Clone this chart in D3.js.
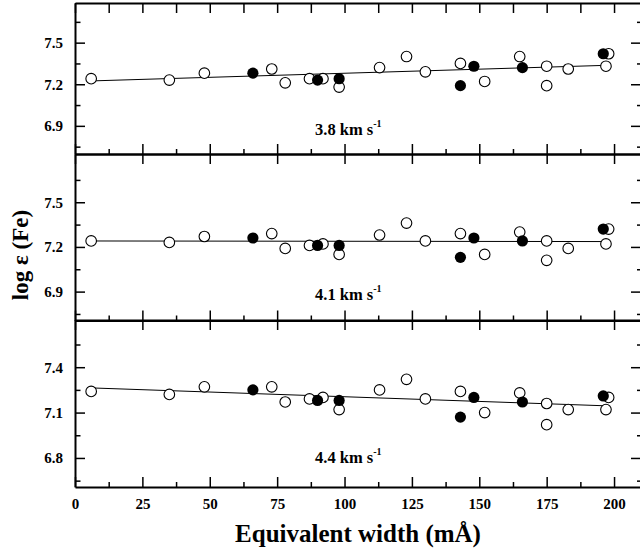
<!DOCTYPE html>
<html>
<head>
<meta charset="utf-8">
<script src="https://cdn.jsdelivr.net/npm/d3@7"></script>
<style>
  html, body { margin: 0; padding: 0; background: #fff; }
  svg { display: block; }
  .ax text { font-family: "Liberation Serif", "Times New Roman", serif; font-weight: bold; font-size: 15px; fill: #000; }
</style>
</head>
<body>
<svg id="chart" width="640" height="550"></svg>
<script>
// ---- data ----
const ew = [6, 35, 48, 66, 73, 78, 87, 90, 92, 98, 98, 113, 123, 130, 143, 143, 148, 152, 165, 166, 175, 175, 183, 196, 198, 197];
const filled = [0, 0, 0, 1, 0, 0, 0, 1, 0, 1, 0, 0, 0, 0, 0, 1, 1, 0, 0, 1, 0, 0, 0, 1, 0, 0];
const abund38 = [7.24, 7.23, 7.28, 7.28, 7.31, 7.21, 7.24, 7.23, 7.24, 7.24, 7.18, 7.32, 7.40, 7.29, 7.35, 7.19, 7.33, 7.22, 7.40, 7.32, 7.33, 7.19, 7.31, 7.42, 7.42, 7.33];
const abund41 = [7.24, 7.23, 7.27, 7.26, 7.29, 7.19, 7.21, 7.21, 7.22, 7.21, 7.15, 7.28, 7.36, 7.24, 7.29, 7.13, 7.26, 7.15, 7.30, 7.24, 7.24, 7.11, 7.19, 7.32, 7.32, 7.22];
const abund44 = [7.24, 7.22, 7.27, 7.25, 7.27, 7.17, 7.19, 7.18, 7.20, 7.18, 7.12, 7.25, 7.32, 7.19, 7.24, 7.07, 7.20, 7.10, 7.23, 7.17, 7.16, 7.02, 7.12, 7.21, 7.20, 7.12];
const fitX = [6, 198];
const fit38 = [7.224, 7.337];
const fit41 = [7.240, 7.236];
const fit44 = [7.263, 7.144];
const panelLabels = ["3.8 km s", "4.1 km s", "4.4 km s"];
const yMajor38 = [6.9, 7.2, 7.5], yMinor38 = [6.75, 7.05, 7.35, 7.65];
const yMajor41 = [6.9, 7.2, 7.5], yMinor41 = [6.75, 7.05, 7.35, 7.65];
const yMajor44 = [6.8, 7.1, 7.4], yMinor44 = [6.65, 6.95, 7.25, 7.55];
const xMajor = [0, 25, 50, 75, 100, 125, 150, 175, 200];
const xMinor = [12.5, 37.5, 62.5, 87.5, 112.5, 137.5, 162.5, 187.5];
const xTitle = "Equivalent width (mÅ)";
const yTitle = "log ε (Fe)";

// ---- layout ----
const svg = d3.select("#chart");
const x = d3.scaleLinear().domain([0, 210]).range([75, 641]);
const font = '"Liberation Serif", "Times New Roman", serif';

const panels = [
  { vals: abund38, fit: fit38, label: panelLabels[0], dom: [6.697, 7.786], rng: [154, 3], maj: yMajor38, min: yMinor38, labY: 135 },
  { vals: abund41, fit: fit41, label: panelLabels[1], dom: [6.706, 7.824], rng: [320.5, 154], maj: yMajor41, min: yMinor41, labY: 300 },
  { vals: abund44, fit: fit44, label: panelLabels[2], dom: [6.608, 7.712], rng: [487, 320], maj: yMajor44, min: yMinor44, labY: 463 }
];

function styleAxis(g, domainW) {
  g.attr("class", "ax");
  g.selectAll(".tick line").attr("stroke", "#000").attr("stroke-width", 1.5);
  g.select(".domain").attr("stroke", "#000").attr("stroke-width", domainW);
}

panels.forEach((p, i) => {
  const y = d3.scaleLinear().domain(p.dom).range(p.rng);
  const top = p.rng[1], bot = p.rng[0];
  const g = svg.append("g");

  // left axis
  g.append("g").attr("transform", `translate(${x(0)},0)`)
    .call(d3.axisLeft(y).tickValues(p.maj).tickFormat(d3.format(".1f")).tickSizeInner(-10).tickSizeOuter(0).tickPadding(12))
    .call(s => styleAxis(s, 2));
  g.append("g").attr("transform", `translate(${x(0)},0)`)
    .call(d3.axisLeft(y).tickValues(p.min).tickFormat("").tickSizeInner(-5.5).tickSizeOuter(0))
    .call(s => styleAxis(s, 0));
  // right axis
  g.append("g").attr("transform", `translate(${x(210)},0)`)
    .call(d3.axisRight(y).tickValues(p.maj).tickFormat("").tickSizeInner(-10).tickSizeOuter(0))
    .call(s => styleAxis(s, 2));
  g.append("g").attr("transform", `translate(${x(210)},0)`)
    .call(d3.axisRight(y).tickValues(p.min).tickFormat("").tickSizeInner(-4).tickSizeOuter(0))
    .call(s => styleAxis(s, 0));
  // bottom axis
  const bAx = d3.axisBottom(x).tickValues(xMajor).tickSizeInner(-10).tickSizeOuter(0).tickPadding(11);
  if (i < 2) bAx.tickFormat("");
  else bAx.tickFormat(d3.format("d"));
  g.append("g").attr("transform", `translate(0,${bot})`).call(bAx).call(s => styleAxis(s, 2));
  g.append("g").attr("transform", `translate(0,${bot})`)
    .call(d3.axisBottom(x).tickValues(xMinor).tickFormat("").tickSizeInner(-5).tickSizeOuter(0))
    .call(s => styleAxis(s, 0));
  // top axis
  const topVals = i === 0 ? xMajor.concat(xMinor) : xMajor;
  g.append("g").attr("transform", `translate(0,${top})`)
    .call(d3.axisTop(x).tickValues(topVals).tickFormat("").tickSizeInner(-10).tickSizeOuter(0))
    .call(s => styleAxis(s, 2));

  // fit line
  const line = d3.line().x(d => x(d[0])).y(d => y(d[1]));
  g.append("path").datum(fitX.map((v, k) => [v, p.fit[k]]))
    .attr("d", line).attr("fill", "none").attr("stroke", "#000").attr("stroke-width", 1);

  // points: open first, then filled
  const pts = ew.map((v, k) => ({ x: v, y: p.vals[k], f: filled[k] }));
  g.selectAll(".open").data(pts.filter(d => !d.f)).join("circle")
    .attr("cx", d => x(d.x)).attr("cy", d => y(d.y)).attr("r", 5.3)
    .attr("fill", "#fff").attr("stroke", "#000").attr("stroke-width", 1.1);
  g.selectAll(".fill").data(pts.filter(d => d.f)).join("circle")
    .attr("cx", d => x(d.x)).attr("cy", d => y(d.y)).attr("r", 5.6)
    .attr("fill", "#000");

  // panel label
  const t = g.append("text").attr("x", 315).attr("y", p.labY)
    .attr("font-family", font).attr("font-weight", "bold").attr("font-size", 16.5).attr("fill", "#000")
    .text(p.label);
  t.append("tspan").attr("dy", -8).attr("font-size", 10).text("-1");
});

// axis titles
svg.append("text").attr("x", 358).attr("y", 542).attr("text-anchor", "middle")
  .attr("font-family", font).attr("font-weight", "bold").attr("font-size", 25).attr("fill", "#000")
  .text(xTitle);
svg.append("text").attr("transform", "translate(28,255) rotate(-90)").attr("text-anchor", "middle")
  .attr("font-family", font).attr("font-weight", "bold").attr("font-size", 23).attr("fill", "#000")
  .text(yTitle);
</script>
</body>
</html>
